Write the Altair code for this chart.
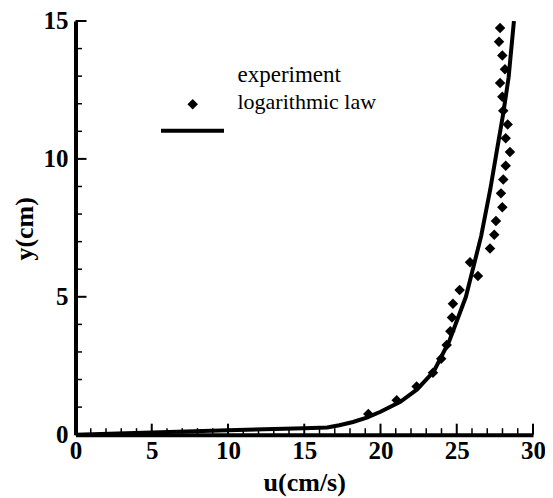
import altair as alt
import pandas as pd

# ---- data ----
exp_u = [19.2, 21.06, 22.37, 23.44, 23.98, 24.34, 24.58, 24.69, 24.75, 25.19,
         26.39, 25.87, 27.18, 27.46, 27.57, 27.99, 27.9, 28.05, 28.21, 28.49,
         28.21, 28.34, 28.05, 27.99, 27.84, 28.16, 27.99, 27.77, 27.84]
exp_y = [0.75, 1.25, 1.75, 2.25, 2.75, 3.25, 3.75, 4.25, 4.75, 5.25,
         5.75, 6.25, 6.75, 7.25, 7.75, 8.25, 8.75, 9.25, 9.75, 10.25,
         10.75, 11.25, 11.75, 12.25, 12.75, 13.25, 13.75, 14.25, 14.75]

log_u = [0, 5, 10, 15, 16.5, 17.3, 18.2, 19.1, 20.0, 21.3, 22.4, 23.5, 24.5,
         25.6, 26.6, 27.2, 27.6, 28.05, 28.4, 28.75]
log_y = [0, 0.08, 0.16, 0.23, 0.26, 0.34, 0.46, 0.62, 0.83, 1.19, 1.64, 2.3,
         3.38, 5.0, 7.2, 8.9, 10.2, 11.65, 12.95, 15.0]

series_names = ["experiment", "logarithmic law"]

x_major = [0, 5, 10, 15, 20, 25, 30]
x_minor = [1, 2, 3, 4, 6, 7, 8, 9, 11, 12, 13, 14, 16, 17, 18, 19,
           21, 22, 23, 24, 26, 27, 28, 29]
y_major = [0, 5, 10, 15]
y_minor = [1, 2, 3, 4, 6, 7, 8, 9, 11, 12, 13, 14]

x_title = "u(cm/s)"
y_title = "y(cm)"

# ---- layout ----
W = 457.5
H = 413.7
TOP = 13
FONT = "Liberation Serif"

xs = alt.Scale(domain=[0, 30], nice=False, zero=False)
ys = alt.Scale(domain=[0, 15], nice=False, zero=False)

exp_df = pd.DataFrame({"u": exp_u, "y": exp_y})
log_df = pd.DataFrame({"u": log_u, "y": log_y})

line = alt.Chart(log_df).mark_line(color="black", strokeWidth=4, clip=True).encode(
    x=alt.X("u:Q", scale=xs,
            axis=alt.Axis(values=x_major, title=x_title, titleX=W / 2, titleY=56,
                          titleBaseline="alphabetic", labelPadding=4,
                          labelFlush=False)),
    y=alt.Y("y:Q", scale=ys,
            axis=alt.Axis(values=y_major, title=y_title, titleX=-43.5, titleY=H / 2 + 0.5,
                          titleAngle=270, titleAlign="center",
                          titleBaseline="alphabetic", labelPadding=7.5,
                          labelFlush=False)),
)

points = alt.Chart(exp_df).mark_point(shape="diamond", filled=True, size=110,
                                      color="black", opacity=1).encode(
    x=alt.X("u:Q", scale=xs),
    y=alt.Y("y:Q", scale=ys),
)

# inward ticks
xmaj = alt.Chart(pd.DataFrame({"t": x_major})).mark_rule(color="black", strokeWidth=2).encode(
    x=alt.X("t:Q", scale=xs), y=alt.value(H), y2=alt.value(H - 11))
xmin = alt.Chart(pd.DataFrame({"t": x_minor})).mark_rule(color="black", strokeWidth=1.5).encode(
    x=alt.X("t:Q", scale=xs), y=alt.value(H), y2=alt.value(H - 6.5))
ymaj = alt.Chart(pd.DataFrame({"t": y_major})).mark_rule(color="black", strokeWidth=2).encode(
    y=alt.Y("t:Q", scale=ys), x=alt.value(0), x2=alt.value(11))
ymin = alt.Chart(pd.DataFrame({"t": y_minor})).mark_rule(color="black", strokeWidth=1.5).encode(
    y=alt.Y("t:Q", scale=ys), x=alt.value(0), x2=alt.value(6.5))

# legend (positions in plot pixels)
one = pd.DataFrame({"a": [0]})
leg_pt = alt.Chart(one).mark_point(shape="diamond", filled=True, size=110,
                                   color="black", opacity=1).encode(
    x=alt.value(117.2), y=alt.value(83.3))
leg_line = alt.Chart(one).mark_rule(color="black", strokeWidth=4).encode(
    x=alt.value(85.5), x2=alt.value(148.5), y=alt.value(109.7))
leg_t1 = alt.Chart(pd.DataFrame({"label": [series_names[0]]})).mark_text(
    font=FONT, fontSize=23, align="left", baseline="alphabetic", color="black").encode(
    x=alt.value(162), y=alt.value(60.7), text="label:N")
leg_t2 = alt.Chart(pd.DataFrame({"label": [series_names[1]]})).mark_text(
    font=FONT, fontSize=22, align="left", baseline="alphabetic", color="black").encode(
    x=alt.value(162), y=alt.value(88), text="label:N")

chart = alt.layer(
    xmin, xmaj, ymin, ymaj, line, points, leg_pt, leg_line, leg_t1, leg_t2
).properties(
    width=W, height=H,
    autosize=alt.AutoSizeParams(type="none"),
    padding={"left": 67.5, "top": TOP, "right": 12, "bottom": 70},
).configure_view(stroke=None).configure_axis(
    grid=False, ticks=False,
    domainColor="black", domainWidth=4,
    labelFont=FONT, labelFontSize=25, labelFontWeight="bold", labelColor="black",
    titleFont=FONT, titleFontSize=26, titleFontWeight="bold", titleColor="black",
)

chart.save("out.html", embed_options={"renderer": "svg", "actions": False})
